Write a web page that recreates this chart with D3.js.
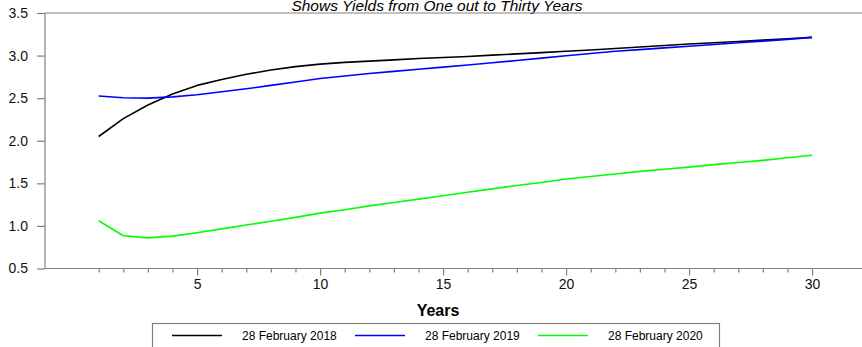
<!DOCTYPE html>
<html>
<head>
<meta charset="utf-8">
<script src="https://cdn.jsdelivr.net/npm/d3@7"></script>
<style>
  html, body { margin: 0; padding: 0; background: #fff; }
  svg { display: block; font-family: Arial, "Liberation Sans", sans-serif; }
</style>
</head>
<body>
<svg id="chart" width="862" height="347"></svg>
<script>
// Yield curves: maturity in years vs. yield (%)
const years = d3.range(1, 31);
const yields2018 = [2.05, 2.26, 2.42, 2.55, 2.65, 2.72, 2.78, 2.83, 2.87, 2.90,
                    2.92, 2.935, 2.95, 2.965, 2.977, 2.99, 3.005, 3.02, 3.035, 3.05,
                    3.066, 3.083, 3.10, 3.118, 3.136, 3.151, 3.166, 3.181, 3.197, 3.214];
const yields2019 = [2.525, 2.505, 2.50, 2.515, 2.54, 2.575, 2.61, 2.65, 2.69, 2.73,
                    2.76, 2.79, 2.815, 2.84, 2.865, 2.89, 2.915, 2.942, 2.97, 2.998,
                    3.025, 3.05, 3.07, 3.09, 3.11, 3.13, 3.15, 3.17, 3.19, 3.214];
const yields2020 = [1.06, 0.885, 0.86, 0.88, 0.92, 0.965, 1.01, 1.055, 1.10, 1.15,
                    1.19, 1.235, 1.275, 1.315, 1.355, 1.395, 1.435, 1.475, 1.51, 1.55,
                    1.58, 1.61, 1.64, 1.665, 1.69, 1.72, 1.745, 1.77, 1.80, 1.83];
const seriesNames = ["28 February 2018", "28 February 2019", "28 February 2020"];
const seriesColors = ["#000000", "#0000ff", "#00ff00"];
const yTicks = [0.5, 1.0, 1.5, 2.0, 2.5, 3.0, 3.5];
const xMajorTicks = [5, 10, 15, 20, 25, 30];
const titleText = "Shows Yields from One out to Thirty Years";
const xTitle = "Years";

const series = [yields2018, yields2019, yields2020].map((vals, i) => ({
  name: seriesNames[i],
  color: seriesColors[i],
  points: years.map((yr, j) => ({ x: yr, y: vals[j] }))
}));

const svg = d3.select("#chart");
const plot = { left: 45, right: 862, top: 13, bottom: 268.5 };
const axisColor = "#808080";

const x = d3.scaleLinear().domain([-1.183, 32.03]).range([plot.left, plot.right]);
const y = d3.scaleLinear().domain([0.5, 3.5]).range([plot.bottom, plot.top]);

// Title, sitting right against the top edge
svg.append("text")
  .attr("x", 437).attr("y", 11)
  .attr("text-anchor", "middle")
  .attr("font-size", 15.5).attr("font-style", "italic")
  .text(titleText);

// Top frame line
svg.append("line")
  .attr("x1", plot.left).attr("x2", plot.right)
  .attr("y1", plot.top).attr("y2", plot.top)
  .attr("stroke", axisColor).attr("stroke-width", 1.2);

// Y axis
const yAxis = d3.axisLeft(y).tickValues(yTicks).tickFormat(d3.format(".1f"))
  .tickSize(8).tickPadding(9);
const gy = svg.append("g").attr("transform", `translate(${plot.left},0)`).call(yAxis);
gy.select(".domain").attr("stroke", axisColor).attr("stroke-width", 1.2)
  .attr("d", `M0,${plot.top}V${plot.bottom}`);
gy.selectAll(".tick line").attr("stroke", axisColor).attr("stroke-width", 1.2);
gy.selectAll(".tick text").attr("font-size", 14).attr("fill", "#111")
  .attr("font-family", "Arial, 'Liberation Sans', sans-serif");

// X axis: minor ticks every year, labelled major ticks every five years
const gxMinor = svg.append("g").attr("transform", `translate(0,${plot.bottom})`)
  .call(d3.axisBottom(x).tickValues(years.filter(v => v % 5 !== 0)).tickSize(4).tickFormat(""));
gxMinor.select(".domain").attr("stroke", axisColor).attr("stroke-width", 1.2)
  .attr("d", `M${plot.left},0H${plot.right}`);
gxMinor.selectAll(".tick line").attr("stroke", axisColor).attr("stroke-width", 1.2);

const gx = svg.append("g").attr("transform", `translate(0,${plot.bottom})`)
  .call(d3.axisBottom(x).tickValues(xMajorTicks).tickSize(7).tickPadding(4).tickFormat(d3.format("d")));
gx.select(".domain").remove();
gx.selectAll(".tick line").attr("stroke", axisColor).attr("stroke-width", 1.2);
gx.selectAll(".tick text").attr("font-size", 14).attr("fill", "#111")
  .attr("font-family", "Arial, 'Liberation Sans', sans-serif");

// X axis title
svg.append("text")
  .attr("x", 438).attr("y", 316)
  .attr("text-anchor", "middle")
  .attr("font-size", 16).attr("font-weight", "bold")
  .text(xTitle);

// Curves
const line = d3.line().x(d => x(d.x)).y(d => y(d.y));
svg.append("g").selectAll("path")
  .data(series)
  .join("path")
  .attr("d", d => line(d.points))
  .attr("fill", "none")
  .attr("stroke", d => d.color)
  .attr("stroke-width", 1.6)
  .attr("stroke-linejoin", "round");

// Legend
const legend = svg.append("g");
legend.append("rect")
  .attr("x", 152.5).attr("y", 323.5)
  .attr("width", 567).attr("height", 40)
  .attr("fill", "#fff").attr("stroke", axisColor).attr("stroke-width", 1.2);
const item = legend.selectAll("g.item")
  .data(series)
  .join("g")
  .attr("class", "item")
  .attr("transform", (d, i) => `translate(${172 + i * 183},0)`);
item.append("line")
  .attr("x1", 0).attr("x2", 50)
  .attr("y1", 335.5).attr("y2", 335.5)
  .attr("stroke", d => d.color).attr("stroke-width", 1.6);
item.append("text")
  .attr("x", 70).attr("y", 340)
  .attr("font-size", 12)
  .text(d => d.name);
</script>
</body>
</html>
